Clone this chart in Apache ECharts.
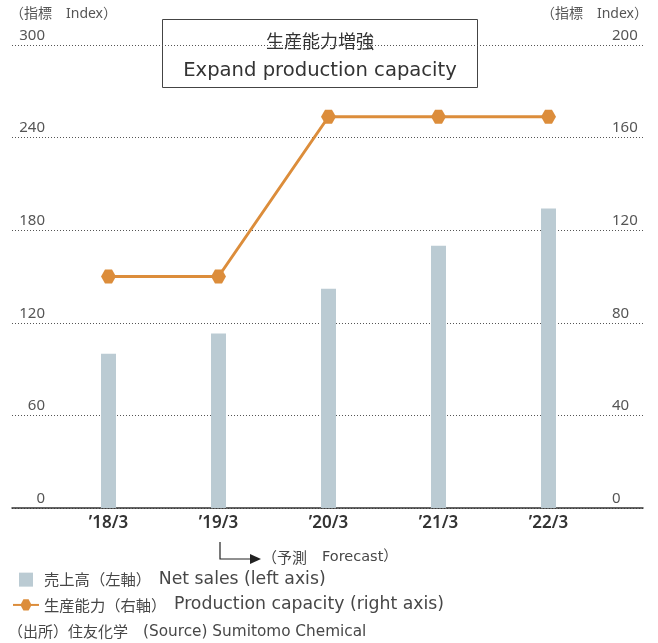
<!DOCTYPE html>
<html>
<head>
<meta charset="utf-8">
<script src="https://cdn.jsdelivr.net/npm/echarts@6/dist/echarts.min.js"></script>
<style>
  html, body { margin: 0; padding: 0; background: #fff; }
  #chart { width: 658px; height: 643px; }
</style>
</head>
<body>
<div id="chart"></div>
<script>
const categories = ['’18/3', '’19/3', '’20/3', '’21/3', '’22/3'];
const netSales = [100, 113, 142, 170, 194];   // left axis
const capacity = [100, 100, 169, 169, 169];   // right axis
const leftTicks = { min: 0, max: 300, interval: 60 };
const rightTicks = { min: 0, max: 200, interval: 40 };
const salesName = '売上高（左軸）　Net sales (left axis)';
const capacityName = '生産能力（右軸）　Production capacity (right axis)';

const font = '"Noto Sans", "Noto Sans CJK JP", sans-serif';
const cjkFont = '"Noto Sans CJK JP", sans-serif';
const latinFont = '"DejaVu Sans", "Noto Sans CJK JP", sans-serif';
const textColor = '#474747';
const barColor = '#bbcbd3';
const lineColor = '#dc8d3b';
const hexagon = 'path://M0,7 L4,0 L11,0 L15,7 L11,14 L4,14 Z';

// split "日本語　English" into two rich text parts
const twoPart = (s) => {
  const i = s.indexOf('　');
  return '{c|' + s.slice(0, i + 1) + '}{l|' + s.slice(i + 1) + '}';
};

const chart = echarts.init(document.getElementById('chart'));

const option = {
  animation: false,
  textStyle: { fontFamily: font },
  grid: [
    // full-width grid: gridlines, axis line, tick labels
    { left: 12, right: 15, top: 45, bottom: 135 },
    // data grid
    { left: 53.5, right: 54.5, top: 45, bottom: 135 },
  ],
  xAxis: [
    {
      gridIndex: 0,
      type: 'category',
      data: [''],
      axisLine: { lineStyle: { color: '#333', width: 1.5 } },
      axisTick: { show: false },
      axisLabel: { show: false },
    },
    {
      gridIndex: 1,
      type: 'category',
      data: categories,
      axisLine: { show: false },
      axisTick: { show: false },
      axisLabel: { margin: 7, fontSize: 17, fontWeight: 600, color: '#333', fontFamily: font },
    },
  ],
  yAxis: [
    {
      gridIndex: 0,
      type: 'value',
      position: 'left',
      ...leftTicks,
      axisLine: { show: false },
      axisTick: { show: false },
      splitLine: { lineStyle: { color: '#555', width: 1, type: [1, 2] } },
      axisLabel: {
        inside: true, margin: 33, align: 'right', verticalAlign: 'bottom',
        padding: [0, 0, 2, 0], fontSize: 15, color: '#555', fontFamily: font,
      },
    },
    {
      gridIndex: 0,
      type: 'value',
      position: 'right',
      ...rightTicks,
      axisLine: { show: false },
      axisTick: { show: false },
      splitLine: { show: false },
      axisLabel: {
        inside: true, margin: 31, align: 'left', verticalAlign: 'bottom',
        padding: [0, 0, 2, 0], fontSize: 15, color: '#555', fontFamily: font,
      },
    },
    { gridIndex: 1, type: 'value', ...leftTicks, show: false, splitLine: { show: false } },
    { gridIndex: 1, type: 'value', ...rightTicks, show: false, splitLine: { show: false } },
  ],
  legend: {
    orient: 'vertical',
    left: 12,
    top: 571,
    padding: 0,
    itemWidth: 26,
    itemHeight: 14,
    itemGap: 8,
    formatter: twoPart,
    textStyle: {
      color: textColor,
      rich: {
        c: { fontFamily: cjkFont, fontSize: 15.3, color: textColor },
        l: { fontFamily: latinFont, fontSize: 17.3, color: textColor },
      },
    },
    data: [
      { name: salesName, icon: 'path://M0,0 L10,0 L10,10 L0,10 Z' },
      { name: capacityName },
    ],
  },
  series: [
    {
      name: salesName,
      type: 'bar',
      xAxisIndex: 1,
      yAxisIndex: 2,
      barWidth: 15,
      itemStyle: { color: barColor },
      data: netSales,
    },
    {
      name: capacityName,
      type: 'line',
      xAxisIndex: 1,
      yAxisIndex: 3,
      symbol: hexagon,
      symbolSize: [15, 14],
      lineStyle: { color: lineColor, width: 3 },
      itemStyle: { color: lineColor },
      data: capacity,
      z: 5,
    },
  ],
  graphic: [
    { type: 'text', left: 10, top: 7, style: { text: '（指標　Index）', fill: '#555', font: '14px ' + font } },
    { type: 'text', right: 10, top: 7, style: { text: '（指標　Index）', fill: '#555', font: '14px ' + font } },
    {
      type: 'group', left: 162, top: 19, z: 100,
      children: [
        { type: 'rect', shape: { x: 0, y: 0, width: 315, height: 68 }, style: { fill: '#fff', stroke: '#444', lineWidth: 1 } },
        { type: 'text', style: { x: 157.5, y: 22, text: '生産能力増強', fill: '#333', font: '18px ' + cjkFont, align: 'center', verticalAlign: 'middle' } },
        { type: 'text', style: { x: 157.5, y: 51, text: 'Expand production capacity', fill: '#333', font: '19.6px ' + latinFont, align: 'center', verticalAlign: 'middle' } },
      ],
    },
    // forecast arrow
    { type: 'polyline', shape: { points: [[220, 542], [220, 559], [252, 559]] }, style: { stroke: '#222', lineWidth: 1.2, fill: null } },
    { type: 'polygon', shape: { points: [[250, 554], [261, 559], [250, 564]] }, style: { fill: '#222' } },
    {
      type: 'text', left: 262, top: 550,
      style: {
        text: '{c|（予測　}{l|Forecast）}', fill: textColor,
        rich: { c: { fontFamily: cjkFont, fontSize: 15, fill: textColor }, l: { fontFamily: latinFont, fontSize: 14.5, fill: textColor } },
      },
    },
    {
      type: 'text', left: 8, top: 624,
      style: {
        text: '{c|（出所）住友化学　}{l|(Source) Sumitomo Chemical}', fill: textColor,
        rich: { c: { fontFamily: cjkFont, fontSize: 15, fill: textColor }, l: { fontFamily: latinFont, fontSize: 15.3, fill: textColor } },
      },
    },
  ],
};

chart.setOption(option);
</script>
</body>
</html>
